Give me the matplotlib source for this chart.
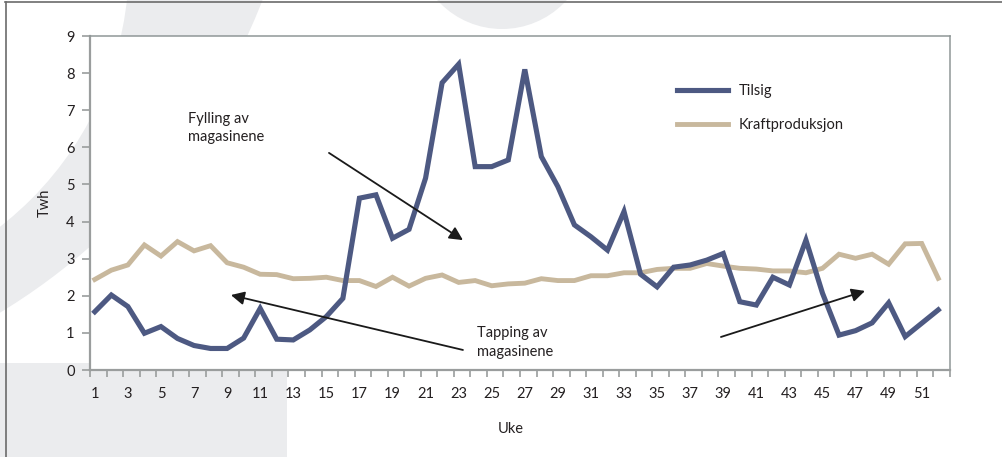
import numpy as np
import matplotlib
matplotlib.use("Agg")
import matplotlib.pyplot as plt
from matplotlib.patches import Circle, Rectangle

plt.rcParams['font.family'] = ['Lato', 'DejaVu Sans']

# ukenummer og verdier (TWh)
uker = list(range(1, 53))
tilsig = [1.57, 2.02, 1.71, 0.99, 1.17, 0.85, 0.66, 0.58, 0.58, 0.86,
          1.66, 0.83, 0.81, 1.08, 1.44, 1.93, 4.63, 4.72, 3.55, 3.79,
          5.17, 7.74, 8.24, 5.48, 5.48, 5.66, 8.10, 5.75, 4.94, 3.91,
          3.59, 3.23, 4.27, 2.58, 2.24, 2.77, 2.83, 2.96, 3.14, 1.84,
          1.75, 2.50, 2.29, 3.50, 2.07, 0.94, 1.06, 1.27, 1.81, 0.90,
          1.26, 1.62]
kraftproduksjon = [2.44, 2.69, 2.83, 3.37, 3.07, 3.46, 3.21, 3.35, 2.89, 2.77,
                   2.58, 2.57, 2.46, 2.47, 2.50, 2.41, 2.41, 2.25, 2.50, 2.26,
                   2.47, 2.56, 2.36, 2.41, 2.27, 2.32, 2.34, 2.46, 2.41, 2.41,
                   2.54, 2.54, 2.62, 2.62, 2.71, 2.74, 2.74, 2.87, 2.80, 2.74,
                   2.72, 2.67, 2.67, 2.62, 2.74, 3.12, 3.01, 3.12, 2.85, 3.40,
                   3.41, 2.47]
serier = ['Tilsig', 'Kraftproduksjon']

BLA = '#4d5982'
BEIGE = '#c8b89d'
GRA_BG = '#ebecee'
TEKST = '#231f20'
AKSE = '#9a9d9d'
FS = 10.5

W, H = 1002, 457
fig = plt.figure(figsize=(W / 100, H / 100), dpi=100)
fig.patch.set_facecolor('white')

# dekor i bakgrunnen, i pikselkoordinater
bg = fig.add_axes([0, 0, 1, 1], zorder=0)
bg.set_xlim(0, W)
bg.set_ylim(H, 0)
bg.axis('off')
bg.add_patch(Circle((-330, -231), 636, color=GRA_BG, lw=0))
bg.add_patch(Circle((-205, -37), 334, color='white', lw=0))
bg.add_patch(Circle((502, -58), 87, color=GRA_BG, lw=0))
bg.add_patch(Rectangle((0, 363), 287, 100, color=GRA_BG, lw=0))
bg.plot([5, W], [2, 2], color='#6b6b6b', lw=1.2)
bg.plot([6, 6], [2, H], color='#6b6b6b', lw=1.2)

ax = fig.add_axes([90 / W, (H - 370) / H, 860 / W, 334 / H], zorder=1)
ax.set_facecolor('white')

ax.plot(uker, tilsig, color=BLA, lw=3.7, solid_joinstyle='miter', label=serier[0], zorder=3)
ax.plot(uker, kraftproduksjon, color=BEIGE, lw=3.5, solid_joinstyle='miter', label=serier[1], zorder=2)

ax.set_xlim(0.71, 52.71)
ax.set_ylim(0, 9)
ax.set_yticks(range(0, 10))
ax.set_xticks(range(1, 53, 2))
ax.set_xticks(np.arange(53) + 0.71, minor=True)
ax.tick_params(axis='x', which='major', length=0, pad=12, labelsize=FS, labelcolor=TEKST)
ax.tick_params(axis='x', which='minor', length=5, width=1.2, color=AKSE, direction='out')
ax.tick_params(axis='y', length=6, width=1.2, color=AKSE, pad=5, labelsize=FS, labelcolor=TEKST)

for side in ['left', 'bottom']:
    ax.spines[side].set_color(AKSE)
    ax.spines[side].set_linewidth(1.6)
for side in ['top', 'right']:
    ax.spines[side].set_color('#8f9797')
    ax.spines[side].set_linewidth(1.1)

ax.set_ylabel('Twh', fontsize=FS, color=TEKST, labelpad=10)
ax.set_xlabel('Uke', fontsize=FS, color=TEKST)
ax.xaxis.set_label_coords((511 - 90) / 860, -0.155)

leg = ax.legend(loc='upper left', bbox_to_anchor=(0.6826, 0.855), frameon=False,
                borderpad=0, borderaxespad=0, handlelength=3.5, handletextpad=0.75,
                labelspacing=1.35, fontsize=FS)
for t in leg.get_texts():
    t.set_color(TEKST)

pil = dict(arrowstyle='-|>', mutation_scale=20, lw=1.3, color='#1a1a1a',
           shrinkA=0, shrinkB=0)
ax.annotate('', xy=(23.26, 3.50), xytext=(15.16, 5.85), arrowprops=pil, zorder=4)
ax.annotate('', xy=(9.23, 2.02), xytext=(23.26, 0.54), arrowprops=pil, zorder=4)
ax.annotate('', xy=(47.57, 2.13), xytext=(38.86, 0.89), arrowprops=pil, zorder=4)

ax.text(6.63, 6.52, 'Fylling av\nmagasinene', fontsize=FS, color=TEKST,
        va='center', ha='left', linespacing=1.4)
ax.text(24.11, 0.74, 'Tapping av\nmagasinene', fontsize=FS, color=TEKST,
        va='center', ha='left', linespacing=1.4)

fig.savefig('out.png', dpi=100)
